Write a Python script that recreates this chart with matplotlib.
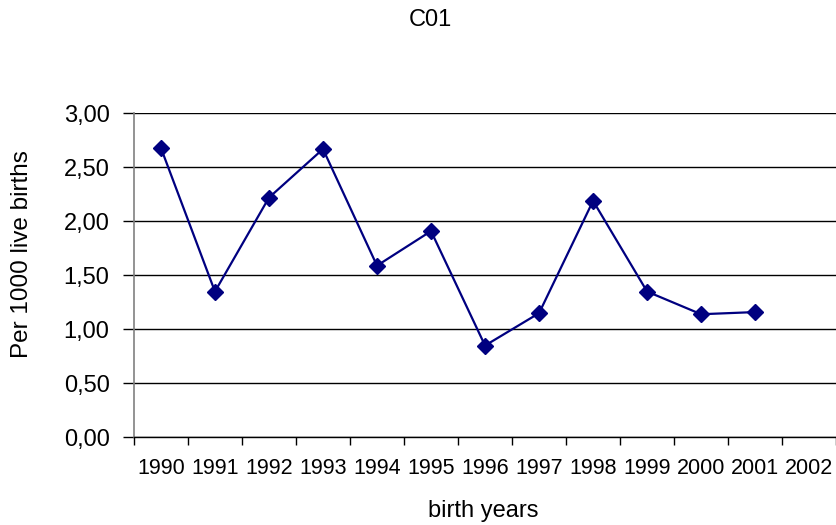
import numpy as np
import matplotlib.pyplot as plt

years = ['1990', '1991', '1992', '1993', '1994', '1995', '1996',
         '1997', '1998', '1999', '2000', '2001', '2002']
rates = [2.68, 1.35, 2.22, 2.67, 1.59, 1.91, 0.85, 1.15, 2.19, 1.35, 1.14, 1.16]
yticks = [0.0, 0.5, 1.0, 1.5, 2.0, 2.5, 3.0]

plt.rcParams['font.family'] = ['Liberation Sans', 'DejaVu Sans']

fig = plt.figure(figsize=(8.37, 5.25), dpi=100)
ax = fig.add_axes([0.160, 0.167, 0.839, 0.617])

x = np.arange(len(years))
ax.plot(x[:len(rates)], rates, color='#000080', linewidth=1.6,
        marker='D', markersize=8, zorder=3, clip_on=False)

ax.set_xlim(-0.5, len(years) - 0.5)
ax.set_ylim(0, 3)
ax.set_yticks(yticks)
ax.set_yticklabels(['{:.2f}'.format(v).replace('.', ',') for v in yticks], fontsize=17)
ax.yaxis.grid(True, color='black', linewidth=1.0)
ax.set_axisbelow(True)

# category labels centred, tick marks between categories
ax.set_xticks(x)
ax.set_xticklabels(years, fontsize=15.5)
ax.set_xticks(np.arange(len(years) + 1) - 0.5, minor=True)
ax.tick_params(axis='x', which='major', length=0, pad=15)
ax.tick_params(axis='x', which='minor', length=6, width=1, color='black')
ax.tick_params(axis='y', length=8, width=1, pad=9.5, color='black')

for side in ['top', 'right']:
    ax.spines[side].set_visible(False)
ax.spines['left'].set_color('#808080')
ax.spines['left'].set_linewidth(1.2)
ax.spines['bottom'].set_color('black')
ax.spines['bottom'].set_linewidth(1.0)

ax.set_xlabel('birth years', fontsize=17)
ax.xaxis.set_label_coords(0.497, -0.226)
ax.xaxis.label.set_va('center')
ax.set_ylabel('Per 1000 live births', fontsize=17.5, va='center')
ax.yaxis.set_label_coords(-0.160, 0.566)
fig.text(0.514, 0.961, 'C01', fontsize=17, ha='center', va='center')

fig.savefig('out.png', dpi=100)
